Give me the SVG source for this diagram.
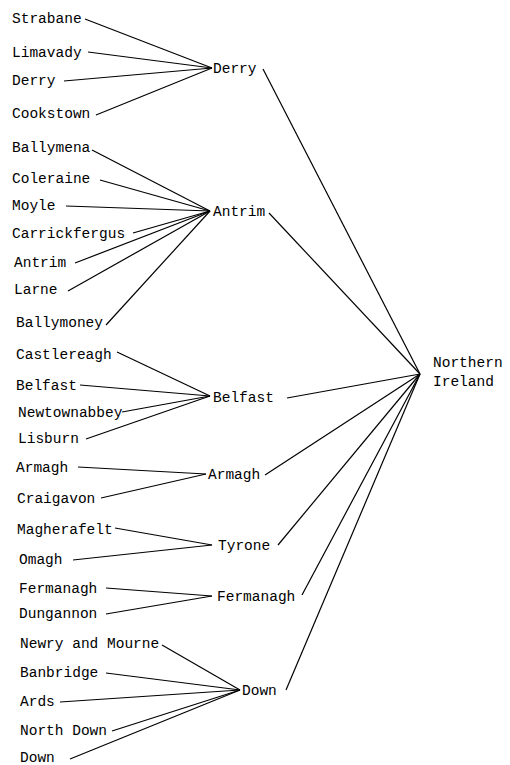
<svg xmlns="http://www.w3.org/2000/svg" width="510" height="765" viewBox="0 0 510 765">
<style>
text{font-family:"Liberation Mono","DejaVu Sans Mono",monospace;font-size:14.5px;fill:#000}
.c line{stroke:#000;stroke-width:1.2;fill:none}
</style>
<rect width="510" height="765" fill="#fff"/>
<g class="c" id="connectors">
<line x1="85" y1="19" x2="212" y2="68"/>
<line x1="88" y1="52" x2="212" y2="68"/>
<line x1="64" y1="81" x2="212" y2="68"/>
<line x1="96" y1="115" x2="212" y2="68"/>
<line x1="92" y1="150" x2="210" y2="211"/>
<line x1="100" y1="180" x2="210" y2="211"/>
<line x1="66" y1="206" x2="210" y2="211"/>
<line x1="133" y1="233" x2="210" y2="211"/>
<line x1="75" y1="263" x2="210" y2="211"/>
<line x1="68" y1="291" x2="210" y2="211"/>
<line x1="106" y1="325" x2="210" y2="211"/>
<line x1="117" y1="352" x2="210" y2="396"/>
<line x1="80" y1="385" x2="210" y2="396"/>
<line x1="122" y1="412" x2="210" y2="396"/>
<line x1="86" y1="439" x2="210" y2="396"/>
<line x1="78" y1="467" x2="206" y2="474"/>
<line x1="101" y1="498" x2="206" y2="474"/>
<line x1="115" y1="528" x2="212" y2="545"/>
<line x1="73" y1="560" x2="212" y2="545"/>
<line x1="106" y1="588" x2="212" y2="596"/>
<line x1="106" y1="614" x2="212" y2="596"/>
<line x1="162" y1="645" x2="240" y2="690"/>
<line x1="106" y1="673" x2="240" y2="690"/>
<line x1="60" y1="702" x2="240" y2="690"/>
<line x1="112" y1="731" x2="240" y2="690"/>
<line x1="70" y1="759" x2="240" y2="690"/>
<line x1="263" y1="69" x2="420" y2="374"/>
<line x1="269" y1="213" x2="420" y2="374"/>
<line x1="287" y1="398" x2="420" y2="374"/>
<line x1="265" y1="475" x2="420" y2="374"/>
<line x1="278" y1="545" x2="420" y2="374"/>
<line x1="302" y1="595" x2="420" y2="374"/>
<line x1="286" y1="690" x2="420" y2="374"/>
</g>
<g id="root"><text x="433" y="367">Northern</text><text x="433" y="386">Ireland</text></g>
<g id="mid-derry"><text x="213" y="73">Derry</text></g>
<g id="mid-antrim"><text x="213" y="216">Antrim</text></g>
<g id="mid-belfast"><text x="213" y="402">Belfast</text></g>
<g id="mid-armagh"><text x="208" y="479">Armagh</text></g>
<g id="mid-tyrone"><text x="218" y="550">Tyrone</text></g>
<g id="mid-fermanagh"><text x="217" y="601">Fermanagh</text></g>
<g id="mid-down"><text x="242" y="695">Down</text></g>
<g id="l-strabane"><text x="12" y="23">Strabane</text></g>
<g id="l-limavady"><text x="12" y="57">Limavady</text></g>
<g id="l-derry"><text x="12" y="85">Derry</text></g>
<g id="l-cookstown"><text x="12" y="118">Cookstown</text></g>
<g id="l-ballymena"><text x="12" y="152">Ballymena</text></g>
<g id="l-coleraine"><text x="12" y="183">Coleraine</text></g>
<g id="l-moyle"><text x="12" y="210">Moyle</text></g>
<g id="l-carrickfergus"><text x="12" y="238">Carrickfergus</text></g>
<g id="l-antrim"><text x="14" y="267">Antrim</text></g>
<g id="l-larne"><text x="14" y="294">Larne</text></g>
<g id="l-ballymoney"><text x="16" y="327">Ballymoney</text></g>
<g id="l-castlereagh"><text x="16" y="359">Castlereagh</text></g>
<g id="l-belfast"><text x="16" y="390">Belfast</text></g>
<g id="l-newtownabbey"><text x="18" y="417">Newtownabbey</text></g>
<g id="l-lisburn"><text x="18" y="443">Lisburn</text></g>
<g id="l-armagh"><text x="16" y="472">Armagh</text></g>
<g id="l-craigavon"><text x="17" y="503">Craigavon</text></g>
<g id="l-magherafelt"><text x="17" y="534">Magherafelt</text></g>
<g id="l-omagh"><text x="19" y="564">Omagh</text></g>
<g id="l-fermanagh"><text x="19" y="593">Fermanagh</text></g>
<g id="l-dungannon"><text x="19" y="618">Dungannon</text></g>
<g id="l-newry"><text x="20" y="648">Newry and Mourne</text></g>
<g id="l-banbridge"><text x="20" y="677">Banbridge</text></g>
<g id="l-ards"><text x="20" y="706">Ards</text></g>
<g id="l-northdown"><text x="20" y="735">North Down</text></g>
<g id="l-down"><text x="20" y="762">Down</text></g>
</svg>
